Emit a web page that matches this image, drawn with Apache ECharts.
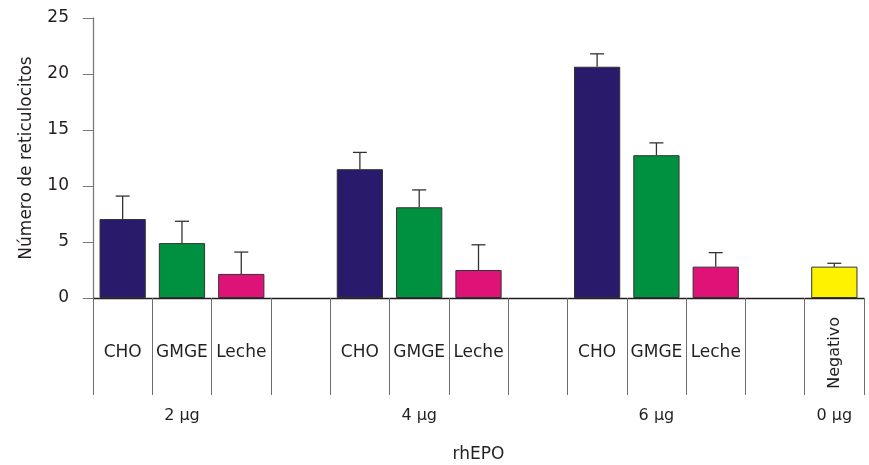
<!DOCTYPE html>
<html>
<head>
<meta charset="utf-8">
<script src="https://cdn.jsdelivr.net/npm/echarts@6/dist/echarts.min.js"></script>
<style>
  html, body { margin: 0; padding: 0; background: #fff; }
  #chart { width: 869px; height: 465px; }
</style>
</head>
<body>
<div id="chart"></div>
<script>
// one slot per bar, blank slots separate the dose groups
var categories = ['CHO', 'GMGE', 'Leche', '', 'CHO', 'GMGE', 'Leche', '', 'CHO', 'GMGE', 'Leche', '', 'Negativo'];
var doseLabels = ['', '2 μg', '', '', '', '4 μg', '', '', '', '6 μg', '', '', '0 μg'];
var means = [7.05, 4.9, 2.15, null, 11.5, 8.1, 2.5, null, 20.65, 12.75, 2.8, null, 2.8];
var errors = [2.05, 1.95, 1.95, null, 1.5, 1.55, 2.25, null, 1.15, 1.1, 1.25, null, 0.3];
var colors = ['#2a1a6c', '#009140', '#df1277', null, '#2a1a6c', '#009140', '#df1277', null, '#2a1a6c', '#009140', '#df1277', null, '#fff200'];

var font = 'DejaVu Sans';
var txt = '#231f20';

var barData = means.map(function (v, i) {
    return v == null ? null : { value: v, itemStyle: { color: colors[i] } };
});
var errData = [];
for (var i = 0; i < means.length; i++) {
    if (means[i] != null) errData.push([i, means[i], means[i] + errors[i]]);
}

var chart = echarts.init(document.getElementById('chart'));
chart.setOption({
    animation: false,
    grid: { left: 93, right: 5, top: 18, bottom: 167, outerBoundsMode: 'none' },
    xAxis: [
        {
            type: 'category',
            data: categories,
            boundaryGap: true,
            axisLine: { lineStyle: { color: txt, width: 1.3 } },
            axisTick: { show: true, interval: 0, length: 97, lineStyle: { color: '#6d6d6d', width: 1 } },
            axisLabel: {
                interval: 0, margin: 46, fontFamily: font, fontSize: 17, color: txt,
                formatter: function (v) { return v === 'Negativo' ? '' : v; }
            },
            name: 'rhEPO',
            nameLocation: 'middle',
            nameGap: 148,
            nameTextStyle: { fontFamily: font, fontSize: 17, color: txt }
        },
        {
            type: 'category',
            data: categories,
            position: 'bottom',
            axisLine: { show: false },
            axisTick: { show: false },
            axisLabel: {
                interval: 0, rotate: 90, margin: 19, fontFamily: font, fontSize: 16, color: txt,
                formatter: function (v) { return v === 'Negativo' ? v : ''; }
            }
        },
        {
            type: 'category',
            data: doseLabels,
            position: 'bottom',
            axisLine: { show: false },
            axisTick: { show: false },
            axisLabel: { interval: 0, margin: 110, fontFamily: font, fontSize: 16, color: txt }
        }
    ],
    yAxis: {
        type: 'value',
        min: 0,
        max: 25,
        interval: 5,
        splitLine: { show: false },
        axisLine: { show: true, lineStyle: { color: '#7a7a7a', width: 1.3 } },
        axisTick: { show: true, length: 10, lineStyle: { color: '#7a7a7a' } },
        axisLabel: { margin: 24, fontFamily: font, fontSize: 17, color: txt },
        name: 'Número de reticulocitos',
        nameLocation: 'middle',
        nameGap: 58,
        nameTextStyle: { fontFamily: font, fontSize: 17, color: txt }
    },
    series: [
        {
            type: 'bar',
            data: barData,
            barWidth: '78%',
            itemStyle: { borderColor: '#333', borderWidth: 1 }
        },
        {
            type: 'custom',
            data: errData,
            z: 1,
            renderItem: function (params, api) {
                var base = api.coord([api.value(0), api.value(1)]);
                var top = api.coord([api.value(0), api.value(2)]);
                var half = 7;
                return {
                    type: 'group',
                    children: [
                        { type: 'line', shape: { x1: base[0], y1: base[1], x2: top[0], y2: top[1] },
                          style: { stroke: '#333', lineWidth: 1.3 } },
                        { type: 'line', shape: { x1: top[0] - half, y1: top[1], x2: top[0] + half, y2: top[1] },
                          style: { stroke: '#333', lineWidth: 1.3 } }
                    ]
                };
            }
        }
    ]
});
</script>
</body>
</html>
